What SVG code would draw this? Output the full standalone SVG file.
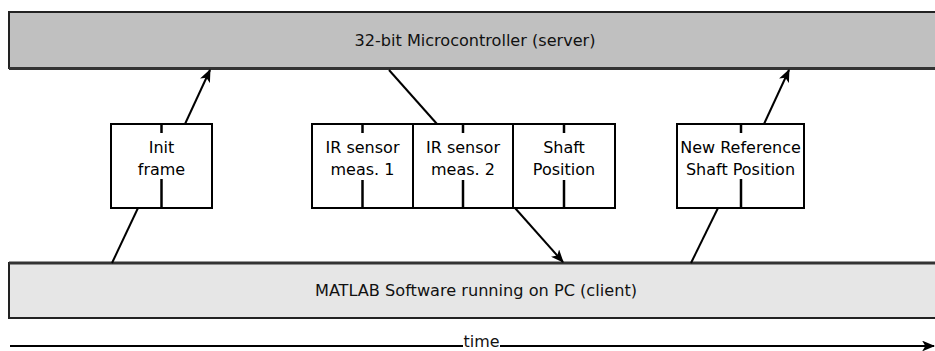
<svg xmlns="http://www.w3.org/2000/svg" width="935" height="351" viewBox="0 0 935 351">
  <defs>
    <marker id="head" viewBox="0 0 12 10" refX="11" refY="5" markerWidth="13" markerHeight="11" markerUnits="userSpaceOnUse" orient="auto">
      <path d="M0,0 L12,5 L0,10 L3,5 Z" fill="#000"/>
    </marker>
    <style>
      .bar-top { fill: #c0c0c0; stroke: #222; stroke-width: 2; }
      .bar-bot { fill: #e6e6e6; stroke: #222; stroke-width: 2; }
      .shadow { stroke: #333; stroke-width: 3; }
      .bar-label { font-family: "DejaVu Sans Condensed", "DejaVu Sans", sans-serif; font-size: 16px; fill: #111; text-anchor: middle; font-stretch: condensed; }
      .box { fill: #fff; stroke: #000; stroke-width: 2; }
      .tick { stroke: #000; stroke-width: 2.5; }
      .box-label { font-family: "DejaVu Sans", sans-serif; font-size: 16px; fill: #000; text-anchor: middle; }
      .conn { stroke: #000; stroke-width: 2; fill: none; }
      .arrow { marker-end: url(#head); }
    </style>
  </defs>

  <rect width="935" height="351" fill="#fff"/>

  <!-- server bar -->
  <g id="server">
    <rect class="bar-top" x="9" y="12" width="928" height="56"/>
    <line class="shadow" x1="9" y1="68.5" x2="935" y2="68.5"/>
    <text class="bar-label" x="475" y="46" textLength="241" lengthAdjust="spacingAndGlyphs">32-bit Microcontroller (server)</text>
  </g>

  <!-- client bar -->
  <g id="client">
    <rect class="bar-bot" x="9" y="263" width="928" height="55"/>
    <line class="shadow" x1="9" y1="263" x2="935" y2="263"/>
    <text class="bar-label" x="476" y="296" textLength="322" lengthAdjust="spacingAndGlyphs">MATLAB Software running on PC (client)</text>
  </g>

  <!-- frames -->
  <g id="init-frame">
    <rect class="box" x="111" y="124" width="101" height="84"/>
    <line class="tick" x1="161.5" y1="124" x2="161.5" y2="133"/>
    <line class="tick" x1="161.5" y1="179" x2="161.5" y2="208"/>
    <text class="box-label" x="161.5" y="153">Init</text>
    <text class="box-label" x="161.5" y="175">frame</text>
  </g>

  <g id="ir-meas-1">
    <rect class="box" x="312" y="124" width="101" height="84"/>
    <line class="tick" x1="362.5" y1="124" x2="362.5" y2="133"/>
    <line class="tick" x1="362.5" y1="180" x2="362.5" y2="208"/>
    <text class="box-label" x="362.5" y="153">IR sensor</text>
    <text class="box-label" x="362.5" y="175">meas. 1</text>
  </g>

  <g id="ir-meas-2">
    <rect class="box" x="413" y="124" width="100" height="84"/>
    <line class="tick" x1="463" y1="124" x2="463" y2="133"/>
    <line class="tick" x1="463" y1="180" x2="463" y2="208"/>
    <text class="box-label" x="463" y="153">IR sensor</text>
    <text class="box-label" x="463" y="175">meas. 2</text>
  </g>

  <g id="shaft-position">
    <rect class="box" x="513" y="124" width="102" height="84"/>
    <line class="tick" x1="564" y1="124" x2="564" y2="133"/>
    <line class="tick" x1="564" y1="180" x2="564" y2="208"/>
    <text class="box-label" x="564" y="153">Shaft</text>
    <text class="box-label" x="564" y="175">Position</text>
  </g>

  <g id="new-reference">
    <rect class="box" x="677" y="124" width="127" height="84"/>
    <line class="tick" x1="741" y1="124" x2="741" y2="133"/>
    <line class="tick" x1="741" y1="179" x2="741" y2="208"/>
    <text class="box-label" x="740.5" y="153">New Reference</text>
    <text class="box-label" x="740.5" y="175">Shaft Position</text>
  </g>

  <!-- connectors -->
  <g id="connectors">
    <line class="conn" x1="138" y1="208" x2="112" y2="263"/>
    <line class="conn arrow" x1="185" y1="124" x2="210" y2="70"/>
    <line class="conn" x1="389" y1="70" x2="437" y2="124"/>
    <line class="conn arrow" x1="515" y1="208" x2="563" y2="262"/>
    <line class="conn" x1="718" y1="208" x2="691" y2="263"/>
    <line class="conn arrow" x1="764" y1="124" x2="789" y2="70"/>
  </g>

  <!-- time axis -->
  <g id="time-axis">
    <line class="conn" x1="10" y1="346" x2="463" y2="346"/>
    <line class="conn arrow" x1="500" y1="346" x2="934" y2="346"/>
    <text class="bar-label" x="481.5" y="347" font-size="15" textLength="36" lengthAdjust="spacingAndGlyphs">time</text>
  </g>
</svg>
